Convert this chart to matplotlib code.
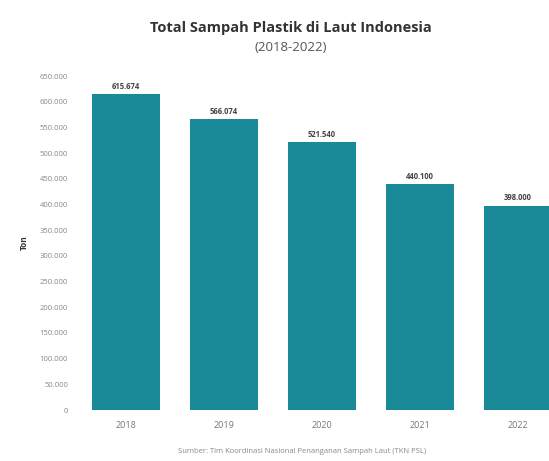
import matplotlib
matplotlib.use('Agg')
import matplotlib.pyplot as plt
from matplotlib.ticker import FuncFormatter

years = ['2018', '2019', '2020', '2021', '2022']
tons = [615674, 566074, 521540, 440100, 398000]
value_labels = ['615.674', '566.074', '521.540', '440.100', '398.000']

plt.rcParams['font.family'] = ['Open Sans', 'DejaVu Sans']

bar_color = '#1b8a98'

fig = plt.figure(figsize=(5.49, 4.61), dpi=100)
ax = fig.add_axes([0.1403, 0.1106, 0.8925, 0.7245])

x = range(len(years))
bars = ax.bar(x, tons, width=0.69, color=bar_color)

for i in x:
    ax.text(i, tons[i] + 6000, value_labels[i], ha='center', va='bottom',
            fontsize=5.5, fontweight='bold', color='#444444')

ax.set_xlim(-0.5, len(years) - 0.5)
ax.set_ylim(0, 650000)
ax.set_yticks(range(0, 650001, 50000))
ax.yaxis.set_major_formatter(FuncFormatter(lambda v, p: f'{int(v):,}'.replace(',', '.')))
ax.set_xticks(list(x))
ax.set_xticklabels(years)
ax.tick_params(axis='y', labelsize=5.5, colors='#888888', length=0, pad=6.5)
ax.tick_params(axis='x', labelsize=6.5, colors='#777777', length=0, pad=8)
for s in ax.spines.values():
    s.set_visible(False)

ax.set_ylabel('Ton', fontsize=6, fontweight='bold', color='#333333', labelpad=8)

fig.text(0.53, 0.94, 'Total Sampah Plastik di Laut Indonesia', ha='center', va='center',
         fontsize=10.5, fontweight='bold', color='#333333')
fig.text(0.53, 0.898, '(2018-2022)', ha='center', va='center', fontsize=9.5, color='#555555')
fig.text(0.55, 0.02, 'Sumber: Tim Koordinasi Nasional Penanganan Sampah Laut (TKN PSL)',
         ha='center', va='center', fontsize=5.5, color='#888888')

fig.savefig('out.png', dpi=100)
